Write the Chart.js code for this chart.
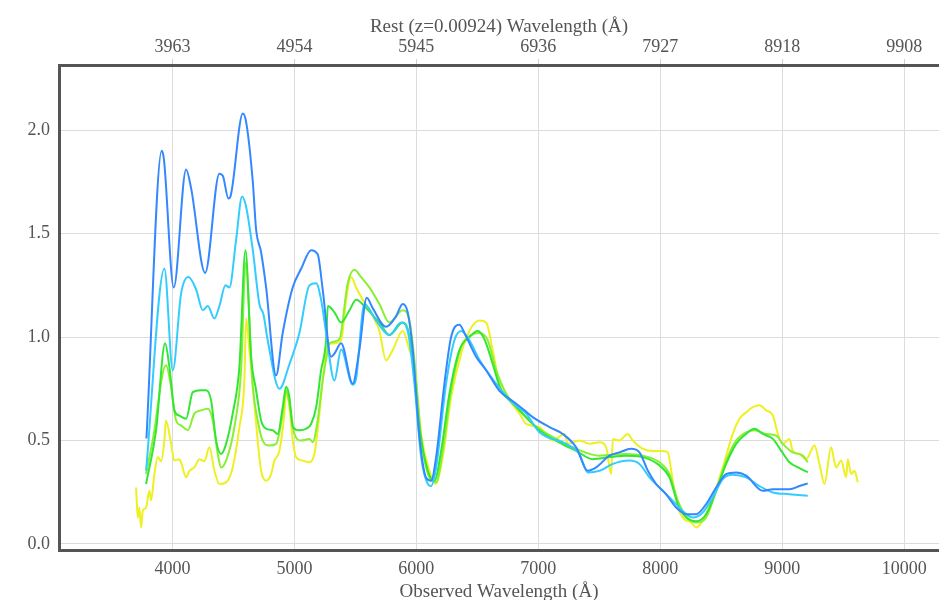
<!DOCTYPE html>
<html>
<head>
<meta charset="utf-8">
<script src="https://cdn.jsdelivr.net/npm/chart.js@4"></script>
<style>
  body { margin: 0; background: #fff; }
  #wrap { width: 939px; height: 600px; }
</style>
</head>
<body>
<div id="wrap"><canvas id="specChart"></canvas></div>
<script>
// redshift used for the rest-frame axis on top
const redshift = 0.00924;
// observed-wavelength tick positions (top axis shows them in rest frame)
const obsTicks = [4000, 5000, 6000, 7000, 8000, 9000, 10000];
const fluxTicks = [0, 0.5, 1, 1.5, 2];

// spectrum 1 (blue)
const blueWl = [3787,3912,3930,4011,4112,4153,4268,4385,4413,4459,4476,4577,4604,4659,4686,4727,4768,4850,4904,4986,5055,5137,5191,5232,5301,5328,5383,5478,5533,5593,5642,5751,5833,5888,5929,5970,6025,6080,6121,6162,6230,6285,6353,6394,6490,6572,6681,6791,6886,6954,7091,7200,7310,7405,7474,7583,7665,7761,7829,7898,7966,8048,8130,8212,8294,8376,8458,8540,8622,8704,8841,8923,9059,9141,9209];
const blueFlux = [0.51,1.90,1.86,1.24,1.81,1.72,1.31,1.79,1.78,1.67,1.68,2.08,2.04,1.75,1.52,1.41,1.24,0.815,1.02,1.24,1.33,1.42,1.40,1.23,0.905,0.92,0.97,0.775,0.94,1.19,1.14,1.05,1.10,1.16,1.12,0.94,0.52,0.32,0.306,0.42,0.775,1.00,1.06,1.02,0.905,0.84,0.74,0.69,0.646,0.613,0.565,0.532,0.467,0.354,0.37,0.427,0.443,0.46,0.443,0.354,0.29,0.24,0.176,0.144,0.144,0.193,0.273,0.338,0.346,0.33,0.257,0.265,0.265,0.28,0.293];

// spectrum 2 (cyan)
const cyanWl = [3784,3934,4003,4071,4131,4194,4249,4290,4344,4385,4435,4467,4522,4571,4604,4659,4713,4746,4781,4877,4960,5041,5123,5178,5219,5260,5328,5383,5478,5506,5574,5670,5779,5875,5929,5984,6039,6094,6121,6162,6244,6312,6367,6435,6517,6654,6791,6900,7009,7228,7337,7405,7501,7611,7747,7829,7911,7993,8102,8184,8266,8348,8430,8512,8594,8704,8813,8923,9059,9209];
const cyanFlux = [0.354,1.33,0.84,1.21,1.29,1.23,1.13,1.15,1.09,1.15,1.25,1.24,1.47,1.68,1.63,1.42,1.16,1.11,0.985,0.75,0.87,1.02,1.25,1.26,1.18,1.02,0.79,0.94,0.77,0.80,1.16,1.08,1.01,1.07,1.03,0.775,0.42,0.29,0.28,0.37,0.775,0.985,1.03,0.985,0.89,0.775,0.68,0.63,0.54,0.484,0.435,0.346,0.354,0.387,0.403,0.387,0.322,0.273,0.209,0.16,0.128,0.152,0.225,0.314,0.335,0.322,0.28,0.249,0.241,0.233];

// spectrum 3 (green)
const greenWl = [3784,3866,3940,3975,4016,4057,4112,4167,4235,4276,4317,4358,4399,4440,4494,4549,4599,4645,4686,4727,4768,4822,4863,4904,4932,4959,4987,5041,5096,5137,5178,5219,5260,5274,5328,5383,5452,5506,5588,5697,5779,5888,5929,5970,6025,6094,6148,6203,6271,6353,6435,6504,6558,6626,6695,6791,6900,7009,7173,7310,7446,7583,7720,7857,7993,8075,8144,8212,8294,8376,8458,8540,8622,8704,8772,8841,8923,8992,9059,9141,9209];
const greenFlux = [0.29,0.55,0.97,0.856,0.646,0.62,0.605,0.734,0.743,0.743,0.694,0.50,0.435,0.484,0.63,0.856,1.42,0.905,0.743,0.597,0.557,0.55,0.532,0.66,0.76,0.71,0.565,0.55,0.557,0.58,0.66,0.84,0.985,1.15,1.12,1.07,1.13,1.18,1.14,1.07,1.01,1.07,1.04,0.905,0.565,0.354,0.306,0.45,0.727,0.937,1.00,1.03,0.99,0.87,0.743,0.68,0.613,0.55,0.49,0.45,0.41,0.42,0.427,0.42,0.38,0.322,0.193,0.128,0.11,0.144,0.257,0.387,0.484,0.532,0.557,0.532,0.508,0.45,0.395,0.367,0.346];

// spectrum 4 (yellow-green)
const limeWl = [3784,3838,3947,3989,4030,4071,4126,4180,4235,4290,4331,4372,4399,4440,4508,4563,4600,4659,4699,4740,4795,4850,4904,4932,4965,5000,5055,5123,5150,5191,5232,5274,5287,5369,5437,5492,5547,5615,5697,5779,5888,5943,5984,6039,6107,6162,6216,6285,6367,6449,6517,6585,6654,6736,6845,6954,7173,7310,7501,7720,7857,7993,8075,8144,8212,8294,8376,8458,8540,8622,8704,8772,8868,8950,9004,9086,9168,9209];
const limeFlux = [0.338,0.50,0.864,0.76,0.597,0.573,0.55,0.63,0.646,0.654,0.597,0.435,0.37,0.403,0.565,0.84,1.36,0.76,0.597,0.50,0.476,0.484,0.63,0.743,0.66,0.532,0.50,0.508,0.492,0.597,0.79,0.937,0.97,0.99,1.26,1.325,1.29,1.24,1.16,1.07,1.13,1.08,0.89,0.516,0.32,0.298,0.45,0.743,0.953,1.01,1.02,0.985,0.84,0.727,0.646,0.58,0.50,0.46,0.427,0.435,0.427,0.395,0.338,0.209,0.136,0.104,0.128,0.257,0.403,0.50,0.54,0.55,0.532,0.524,0.484,0.443,0.427,0.395];

// spectrum 5 (yellow)
const yellowWl = [3702,3716,3729,3743,3757,3784,3811,3825,3852,3880,3907,3934,3947,3989,4016,4057,4071,4112,4139,4180,4221,4262,4303,4344,4385,4440,4494,4549,4590,4604,4631,4659,4699,4727,4768,4809,4836,4877,4918,4932,4959,4987,5014,5069,5123,5164,5191,5232,5274,5328,5383,5424,5465,5506,5561,5643,5697,5751,5806,5888,5943,5984,6039,6107,6157,6216,6285,6367,6435,6517,6572,6626,6681,6763,6845,6900,7009,7118,7214,7241,7337,7419,7501,7556,7597,7611,7665,7733,7774,7857,7938,8020,8061,8102,8144,8198,8253,8294,8348,8430,8512,8594,8649,8704,8759,8813,8868,8923,8964,9004,9059,9086,9141,9196,9264,9305,9346,9400,9441,9483,9524,9537,9565,9592,9619];
const yellowFlux = [0.273,0.128,0.176,0.08,0.16,0.176,0.257,0.21,0.338,0.42,0.40,0.50,0.597,0.484,0.403,0.41,0.395,0.322,0.354,0.37,0.41,0.40,0.467,0.354,0.29,0.298,0.37,0.565,0.79,1.09,0.937,0.76,0.50,0.354,0.306,0.338,0.403,0.45,0.63,0.734,0.66,0.50,0.42,0.403,0.395,0.435,0.55,0.79,0.96,0.97,0.985,1.18,1.29,1.24,1.18,1.10,1.03,0.888,0.937,1.03,0.937,0.856,0.532,0.354,0.29,0.42,0.71,0.92,1.03,1.08,1.07,0.937,0.775,0.694,0.63,0.58,0.565,0.50,0.532,0.484,0.50,0.484,0.492,0.467,0.338,0.508,0.50,0.532,0.50,0.46,0.45,0.45,0.443,0.306,0.176,0.119,0.104,0.08,0.112,0.225,0.37,0.532,0.605,0.637,0.662,0.67,0.646,0.621,0.532,0.484,0.508,0.45,0.435,0.41,0.476,0.387,0.29,0.467,0.37,0.403,0.322,0.41,0.338,0.354,0.298];

const toPoints = (wl, fl) => wl.map((w, i) => ({ x: w, y: fl[i] }));

const lineStyle = color => ({
  borderColor: color,
  backgroundColor: color,
  borderWidth: 2,
  pointRadius: 0,
  fill: false,
  cubicInterpolationMode: 'monotone'
});

const txtColor = '#555';
const serif = '"Liberation Serif", "Times New Roman", serif';

// fixed tick lists instead of auto ticks
const setTicks = list => s => { s.ticks = list.map(v => ({ value: v })); };

new Chart(document.getElementById('specChart'), {
  type: 'line',
  data: {
    datasets: [
      { label: 'blue', data: toPoints(blueWl, blueFlux), ...lineStyle('#3388ff') },
      { label: 'cyan', data: toPoints(cyanWl, cyanFlux), ...lineStyle('#33ccff') },
      { label: 'green', data: toPoints(greenWl, greenFlux), ...lineStyle('#33e633') },
      { label: 'lime', data: toPoints(limeWl, limeFlux), ...lineStyle('#88f033') },
      { label: 'yellow', data: toPoints(yellowWl, yellowFlux), ...lineStyle('#eef022') }
    ]
  },
  options: {
    responsive: true,
    maintainAspectRatio: false,
    animation: false,
    layout: { padding: 0 },
    plugins: { legend: { display: false }, tooltip: { enabled: false } },
    scales: {
      x: {
        type: 'linear',
        position: 'bottom',
        min: 3070,
        max: 10285,
        afterBuildTicks: setTicks(obsTicks),
        afterFit: s => { s.height = 50; },
        border: { color: txtColor, width: 3 },
        grid: { color: '#dcdcdc', drawTicks: false },
        ticks: {
          padding: 8,
          maxRotation: 0,
          color: txtColor,
          font: { family: serif, size: 18 },
          callback: v => String(v)
        },
        title: {
          display: true,
          text: 'Observed Wavelength (Å)',
          color: txtColor,
          font: { family: serif, size: 19, lineHeight: 0.8 },
          padding: 0
        }
      },
      x2: {
        type: 'linear',
        position: 'top',
        min: 3070,
        max: 10285,
        afterBuildTicks: setTicks(obsTicks),
        afterFit: s => { s.height = 65; },
        border: { color: txtColor, width: 3 },
        grid: { drawOnChartArea: false, drawTicks: true, tickLength: 6, color: '#cfcfcf' },
        ticks: {
          padding: 1,
          maxRotation: 0,
          color: txtColor,
          font: { family: serif, size: 18 },
          // rest-frame label for each observed tick
          callback: v => String(Math.round(v / (1 + redshift)))
        },
        title: {
          display: true,
          text: 'Rest (z=0.00924) Wavelength (Å)',
          color: txtColor,
          font: { family: serif, size: 19 },
          padding: { top: 16, bottom: 0 }
        }
      },
      y: {
        min: -0.029,
        max: 2.315,
        afterBuildTicks: setTicks(fluxTicks),
        afterFit: s => { s.width = 59; },
        border: { color: txtColor, width: 3 },
        grid: { color: '#dcdcdc', drawTicks: false },
        ticks: {
          padding: 9,
          color: txtColor,
          font: { family: serif, size: 18 },
          callback: v => v.toFixed(1)
        }
      }
    }
  }
});
</script>
</body>
</html>
